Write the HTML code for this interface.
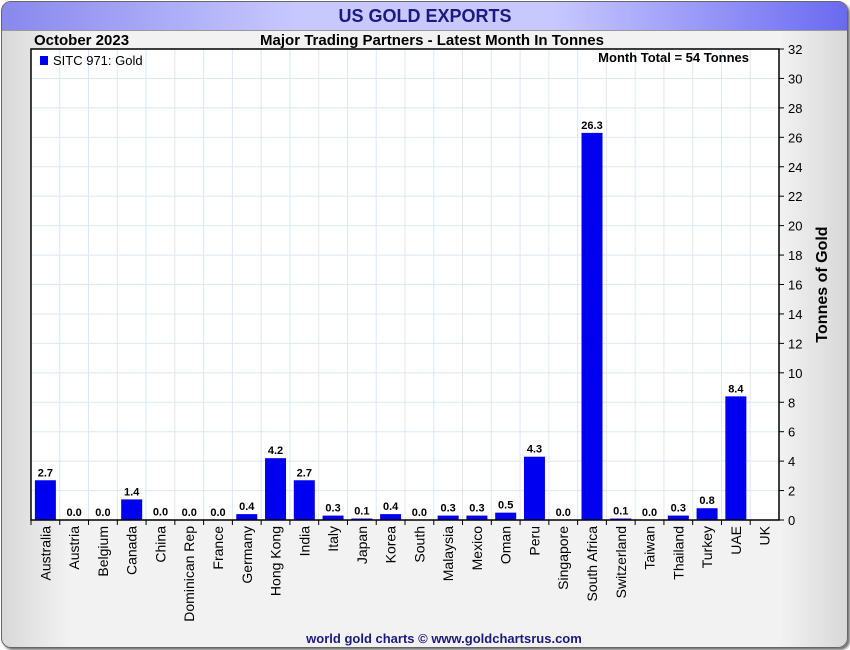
<!DOCTYPE html>
<html><head><meta charset="utf-8">
<style>
body{margin:0;background:#fff;font-family:"Liberation Sans",Arial,sans-serif;}
#frame{position:absolute;left:1px;top:1px;width:845px;height:645px;border:1px solid #666;border-radius:10px;background:linear-gradient(90deg,#d8d8d8 0%,#f2f2f2 8%,#f2f2f2 92%,#d8d8d8 100%);box-shadow:2px 2px 2px #777;overflow:hidden;}
#titlebar{position:absolute;left:0;top:0;width:845px;height:28px;background:linear-gradient(90deg,#8888ee 0%,#c8c8ff 35%,#c8c8ff 65%,#6a6af0 100%);border-bottom:1px solid #999;}
svg text{font-family:"Liberation Sans",Arial,sans-serif;}
</style></head><body>
<div id="frame"><div id="titlebar"></div></div>
<svg id="chart" width="850" height="650" style="position:absolute;left:0;top:0">
<text x="425" y="22" text-anchor="middle" font-size="18" font-weight="bold" fill="#1a1a80">US GOLD EXPORTS</text>
<text x="34" y="45" font-size="15" font-weight="bold" fill="#000">October 2023</text>
<text x="432" y="45" text-anchor="middle" font-size="15" font-weight="bold" fill="#000">Major Trading Partners - Latest Month In Tonnes</text>
<text x="444" y="643" text-anchor="middle" font-size="13" font-weight="bold" fill="#1a1a80">world gold charts © www.goldchartsrus.com</text>
<g id="plot"></g>
</svg>
<script>
const categories=["Australia","Austria","Belgium","Canada","China","Dominican Rep","France","Germany","Hong Kong","India","Italy","Japan","Korea","South","Malaysia","Mexico","Oman","Peru","Singapore","South Africa","Switzerland","Taiwan","Thailand","Turkey","UAE","UK"];
const values=[2.7,0.0,0.0,1.4,0.04,0.0,0.0,0.4,4.2,2.7,0.3,0.1,0.4,0.0,0.3,0.3,0.5,4.3,0.0,26.3,0.1,0.0,0.3,0.8,8.4,null];
const yTicks=[0,2,4,6,8,10,12,14,16,18,20,22,24,26,28,30,32];
const L=31,R=779,T=49,B=520,yMax=32;
const NS="http://www.w3.org/2000/svg";
const g=document.getElementById('plot');
const band=(R-L)/categories.length;
const xS=i=>L+band*i;
const yS=v=>B-(B-T)*v/yMax;
function mk(t,a){const e=document.createElementNS(NS,t);for(const k in a)e.setAttribute(k,a[k]);g.appendChild(e);return e;}
const bg=mk('rect',{x:L,y:T,width:R-L,height:B-T,fill:'#fff'});


yTicks.forEach(v=>{
 if(v>0&&v<yMax){const l=mk('line',{x1:L,x2:R,y1:yS(v),y2:yS(v),stroke:'#dde8f4','stroke-width':1});
 
 }
 const tk=mk('line',{x1:R,x2:R+5,y1:yS(v),y2:yS(v),stroke:'#000'});
 
 
 const t=mk('text',{x:R+9,y:yS(v)+5,'font-size':13,fill:'#000'});t.textContent=v;
 
 
});
categories.forEach((c,i)=>{
 if(i>0){const l=mk('line',{x1:xS(i),x2:xS(i),y1:T,y2:B,stroke:'#dde8f4'});
 
 }
 const tk=mk('line',{x1:xS(i),x2:xS(i),y1:B,y2:B+5,stroke:'#000'});
 
 
 const cx=xS(i)+band/2;
 const t=mk('text',{x:0,y:0,'font-size':14,fill:'#000','text-anchor':'end',transform:`translate(${cx+5},${B+6}) rotate(-90)`});t.textContent=c;
 
 
 const v=values[i];
 if(v!==null){
  const h=Math.max(B-yS(v),0);
  const r=mk('rect',{x:cx-10.5,y:B-h,width:21,height:h,fill:'#0000f0'});
  
  
  const lt=mk('text',{x:cx,y:B-h-4,'font-size':11,'font-weight':'bold','text-anchor':'middle',fill:'#000'});lt.textContent=v.toFixed(1);
  
  
 }
});
const fr=mk('rect',{x:L,y:T,width:R-L,height:B-T,fill:'none',stroke:'#000','stroke-width':1.5});


const ls=mk('rect',{x:40,y:56,width:8,height:9,fill:'#0000f0'});


const lt=mk('text',{x:53,y:65,'font-size':13,fill:'#000'});lt.textContent='SITC 971: Gold';


const mt=mk('text',{x:749,y:62,'font-size':13,'font-weight':'bold','text-anchor':'end',fill:'#000'});mt.textContent='Month Total = 54 Tonnes';


const yt=mk('text',{x:0,y:0,'font-size':16,'font-weight':'bold','text-anchor':'middle',fill:'#000',transform:`translate(827,${(T+B)/2}) rotate(-90)`});yt.textContent='Tonnes of Gold';


</script>
</body></html>
